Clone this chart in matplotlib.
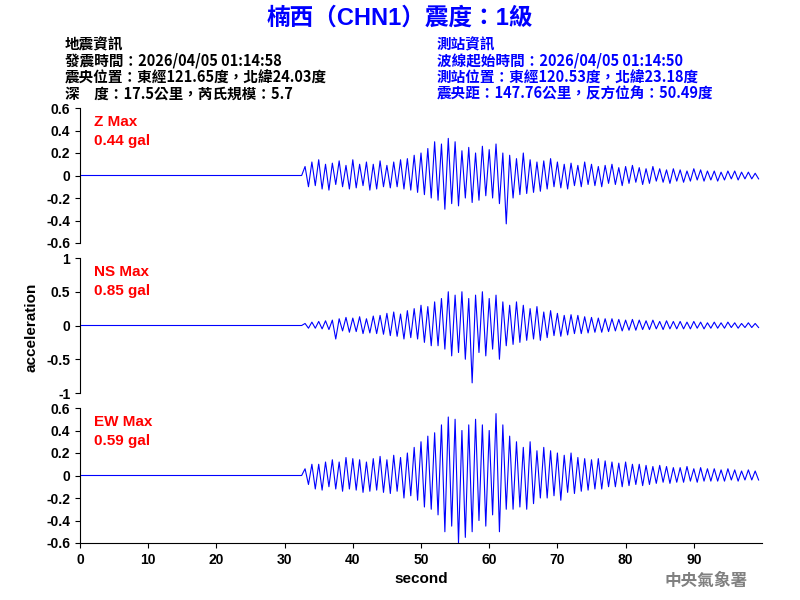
import numpy as np
import matplotlib
matplotlib.use("Agg")
import matplotlib.pyplot as plt

plt.rcParams['font.family'] = ['Liberation Sans', 'Noto Sans CJK TC', 'DejaVu Sans']

t_start, t_step = 33.0, 0.5
z_vals = [0.08,-0.1,0.12,-0.09,0.14,-0.12,0.1,-0.13,0.11,-0.08,
0.13,-0.1,0.09,-0.12,0.14,-0.11,0.1,-0.09,0.12,-0.13,
0.1,-0.12,0.13,-0.1,0.09,-0.11,0.12,-0.1,0.14,-0.12,
0.15,-0.13,0.18,-0.15,0.2,-0.17,0.24,-0.2,0.3,-0.22,
0.28,-0.3,0.33,-0.25,0.3,-0.27,0.22,-0.2,0.25,-0.24,
0.2,-0.22,0.26,-0.18,0.23,-0.2,0.28,-0.25,0.2,-0.43,
0.18,-0.2,0.15,-0.17,0.2,-0.16,0.14,-0.15,0.12,-0.14,
0.13,-0.12,0.15,-0.1,0.12,-0.11,0.1,-0.12,0.11,-0.09,
0.09,-0.1,0.12,-0.08,0.1,-0.09,0.08,-0.1,0.09,-0.07,
0.1,-0.08,0.07,-0.09,0.08,-0.07,0.09,-0.06,0.07,-0.08,
0.06,-0.07,0.08,-0.05,0.06,-0.06,0.05,-0.07,0.06,-0.05,
0.05,-0.06,0.04,-0.05,0.06,-0.04,0.05,-0.05,0.04,-0.04,
0.04,-0.05,0.03,-0.04,0.04,-0.03,0.04,-0.04,0.03,-0.03,
0.03,-0.03,0.02,-0.03]
ns_vals = [0.03,-0.04,0.05,-0.04,0.06,-0.05,0.07,-0.06,0.08,-0.2,
0.1,-0.08,0.12,-0.1,0.11,-0.09,0.13,-0.12,0.1,-0.11,
0.14,-0.12,0.15,-0.13,0.18,-0.15,0.2,-0.16,0.17,-0.2,
0.22,-0.18,0.25,-0.2,0.3,-0.25,0.28,-0.3,0.35,-0.3,
0.4,-0.35,0.5,-0.45,0.45,-0.4,0.5,-0.5,0.4,-0.85,
0.45,-0.4,0.5,-0.45,0.4,-0.35,0.45,-0.5,0.35,-0.3,
0.3,-0.28,0.35,-0.25,0.3,-0.22,0.25,-0.2,0.28,-0.22,
0.2,-0.18,0.22,-0.15,0.18,-0.16,0.15,-0.14,0.16,-0.12,
0.15,-0.12,0.13,-0.11,0.12,-0.1,0.11,-0.1,0.1,-0.09,
0.1,-0.08,0.09,-0.08,0.08,-0.07,0.09,-0.07,0.08,-0.06,
0.07,-0.06,0.08,-0.05,0.06,-0.06,0.07,-0.05,0.06,-0.05,
0.06,-0.05,0.05,-0.05,0.06,-0.04,0.05,-0.05,0.04,-0.04,
0.05,-0.04,0.04,-0.04,0.05,-0.03,0.04,-0.04,0.03,-0.03,
0.04,-0.03,0.03,-0.03]
ew_vals = [0.06,-0.08,0.1,-0.12,0.1,-0.13,0.12,-0.1,0.14,-0.12,
0.12,-0.14,0.16,-0.12,0.15,-0.13,0.14,-0.15,0.12,-0.14,
0.15,-0.13,0.17,-0.15,0.14,-0.16,0.18,-0.14,0.16,-0.2,
0.2,-0.18,0.25,-0.22,0.3,-0.28,0.35,-0.3,0.38,-0.35,
0.45,-0.5,0.52,-0.45,0.5,-0.6,0.4,-0.55,0.45,-0.5,
0.5,-0.4,0.45,-0.45,0.4,-0.35,0.55,-0.5,0.45,-0.3,
0.35,-0.3,0.3,-0.28,0.25,-0.3,0.3,-0.25,0.22,-0.2,
0.25,-0.2,0.22,-0.18,0.2,-0.22,0.18,-0.15,0.2,-0.16,
0.16,-0.14,0.15,-0.13,0.14,-0.12,0.15,-0.12,0.13,-0.1,
0.12,-0.1,0.11,-0.1,0.12,-0.09,0.1,-0.08,0.1,-0.09,
0.09,-0.08,0.08,-0.07,0.09,-0.06,0.08,-0.07,0.07,-0.06,
0.07,-0.06,0.08,-0.05,0.06,-0.06,0.07,-0.05,0.06,-0.05,
0.06,-0.05,0.05,-0.05,0.06,-0.04,0.05,-0.05,0.04,-0.04,
0.05,-0.04,0.04,-0.04]
quiet_t = [0, 32.5]
quiet_v = [0, 0]
labels = ["Z Max\n0.44 gal", "NS Max\n0.85 gal", "EW Max\n0.59 gal"]
ylims = [(-0.6, 0.6), (-1, 1), (-0.6, 0.6)]
yticks = [[-0.6,-0.4,-0.2,0,0.2,0.4,0.6], [-1,-0.5,0,0.5,1], [-0.6,-0.4,-0.2,0,0.2,0.4,0.6]]
ytlabels = [["-0.6","-0.4","-0.2","0","0.2","0.4","0.6"], ["-1","-0.5","0","0.5","1"],
            ["-0.6","-0.4","-0.2","0","0.2","0.4","0.6"]]

fig = plt.figure(figsize=(8, 6), dpi=100)
boxes = [(0.1, 0.595, 0.8525, 0.225), (0.1, 0.345, 0.8525, 0.225), (0.1, 0.095, 0.8525, 0.225)]
for i, vals in enumerate([z_vals, ns_vals, ew_vals]):
    ax = fig.add_axes(boxes[i])
    t = t_start + t_step * np.arange(len(vals))
    ax.plot(quiet_t + list(t), quiet_v + list(vals), color='blue', lw=0.8)
    ax.set_xlim(0, 100)
    ax.set_ylim(*ylims[i])
    ax.set_yticks(yticks[i])
    ax.set_yticklabels(ytlabels[i], fontsize=10, fontweight='bold')
    for s in ['top', 'right']:
        ax.spines[s].set_visible(False)
    if i < 2:
        ax.spines['bottom'].set_visible(False)
        ax.set_xticks([])
    else:
        ax.set_xticks(range(0, 100, 10))
        ax.set_xticklabels([str(v) for v in range(0, 100, 10)], fontsize=10, fontweight='bold')
        ax.set_xlabel("second", fontsize=11, fontweight='bold')
    ax.text(0.02, 0.95, labels[i], transform=ax.transAxes, color='red', fontsize=11,
            fontweight='bold', va='top', linespacing=1.5)

fig.text(0.04, 0.455, "acceleration", rotation=90, ha='center', va='center', fontsize=11, fontweight='bold')
fig.text(0.5, 0.97, "楠西（CHN1）震度：1級", color='blue', fontsize=17, fontweight='bold', ha='center', va='center')
left = "地震資訊\n發震時間：2026/04/05 01:14:58\n震央位置：東經121.65度，北緯24.03度\n深　度：17.5公里，芮氏規模：5.7"
right = "測站資訊\n波線起始時間：2026/04/05 01:14:50\n測站位置：東經120.53度，北緯23.18度\n震央距：147.76公里，反方位角：50.49度"
fig.text(0.081, 0.94, left, fontsize=10.5, fontweight='bold', va='top', linespacing=1.05,
         family=['Noto Sans CJK TC', 'DejaVu Sans'])
fig.text(0.546, 0.94, right, fontsize=10.5, fontweight='bold', va='top', color='blue', linespacing=1.05,
         family=['Noto Sans CJK TC', 'DejaVu Sans'])
fig.text(0.935, 0.032, "中央氣象署", color='gray', fontsize=12, fontweight='bold', ha='right', va='center',
         family=['Noto Sans CJK TC'])
fig.savefig("out.png", dpi=100)
